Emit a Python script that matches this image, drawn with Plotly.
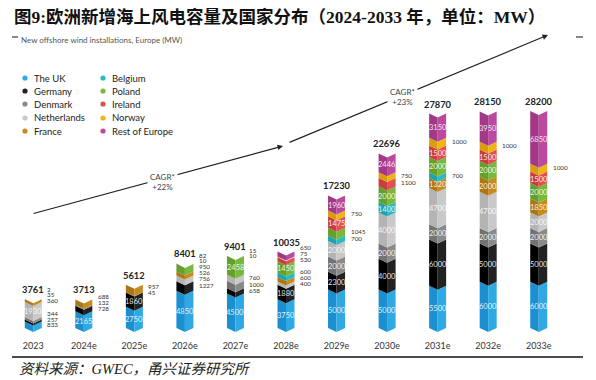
import plotly.graph_objects as go

# ---------------- data ----------------
years = ["2023", "2024e", "2025e", "2026e", "2027e", "2028e", "2029e", "2030e", "2031e", "2032e", "2033e"]
totals = [3761, 3713, 5612, 8401, 9401, 10035, 17230, 22696, 27870, 28150, 28200]

countries = ["The UK", "Germany", "Denmark", "Netherlands", "France",
             "Belgium", "Poland", "Ireland", "Norway", "Rest of Europe"]
uk          = [833, 2165, 2750, 4850, 4500, 3750, 5000, 5000, 5500, 6000, 6000]
germany     = [257, 728, 1860, 1227, 658, 1880, 2300, 4000, 6000, 5000, 5000]
denmark     = [344, 132, 45, 0, 1000, 0, 2000, 2000, 2000, 2000, 2000]
netherlands = [1930, 0, 0, 756, 760, 400, 2000, 4000, 4700, 4700, 2000]
france      = [360, 688, 957, 526, 0, 600, 0, 0, 1320, 2000, 1850]
belgium     = [0, 0, 0, 0, 0, 600, 700, 1400, 700, 0, 0]
poland      = [0, 0, 0, 950, 2458, 1450, 1045, 2000, 2000, 2000, 2000]
ireland     = [0, 0, 0, 10, 10, 530, 1475, 1100, 1500, 1500, 1500]
norway      = [35, 0, 0, 0, 0, 75, 750, 750, 1000, 1000, 1000]
rest        = [2, 0, 0, 82, 15, 650, 1960, 2446, 3150, 3950, 6850]
series = [uk, germany, denmark, netherlands, france, belgium, poland, ireland, norway, rest]

colors = ["#2fa9e4", "#222222", "#8a8a8a", "#c9c9c9", "#c68b1c",
          "#2bb9c3", "#78b83c", "#e0504f", "#f0b418", "#bb4a9e"]
dark = ["#1b8fcf", "#000000", "#737373", "#b4b4b4", "#ad7612",
        "#1ea2ab", "#63a02c", "#c93d3d", "#d99e0a", "#a23886"]

# ---------------- geometry ----------------
W, H = 596, 380
ML, MR, MT, MB = 8, 32, 40, 48
PW, PH = W - ML - MR, H - MT - MB
MW_PER_PX = 130.0
YMAX = PH * MW_PER_PX
PX_PER_UNIT = PW / 11.0
HW = 8.5 / PX_PER_UNIT          # half bar width (x units)
D = 4 * MW_PER_PX               # chevron depth (y units)


def px(xp):
    return (xp - ML) / PW


def py(yp):
    return (H - MB - yp) / PH


fig = go.Figure()

cum = [0.0] * len(years)
inside_ann = []
outside = {i: [] for i in range(len(years))}
for ci, (name, vals) in enumerate(zip(countries, series)):
    lx, ly, rx, ry = [], [], [], []
    for i, v in enumerate(vals):
        if v <= 0:
            continue
        y0, y1 = cum[i], cum[i] + v
        lx += [i - HW, i, i, i - HW, i - HW, None]
        ly += [y0 + D, y0, y1, y1 + D, y0 + D, None]
        rx += [i, i + HW, i + HW, i, i, None]
        ry += [y0, y0 + D, y1 + D, y1, y0, None]
        if v >= 1300:
            inside_ann.append((i, (y0 + y1) / 2 + D / 2, v))
        else:
            outside[i].append(((y0 + y1) / 2 + D, v))
        cum[i] = y1
    fig.add_trace(go.Scatter(x=lx, y=ly, fill="toself", fillcolor=dark[ci], mode="lines",
                             line=dict(width=0), hoverinfo="skip", showlegend=False))
    fig.add_trace(go.Scatter(x=rx, y=ry, fill="toself", fillcolor=colors[ci], mode="lines",
                             line=dict(width=0), hoverinfo="skip", showlegend=False))

ann = []
LAT = "Lato, 'Noto Sans', sans-serif"
SERIF_CJK = "'Liberation Serif', 'Noto Sans CJK SC', serif"

# arrows (CAGR)
ann.append(dict(xref="paper", yref="paper", x=px(283), y=py(146), ax=32 - 283, ay=214 - 146,
                text="", showarrow=True, arrowhead=2, arrowsize=1, arrowwidth=1.1, arrowcolor="#222"))
ann.append(dict(xref="paper", yref="paper", x=px(548), y=py(35), ax=288 - 548, ay=143 - 35,
                text="", showarrow=True, arrowhead=2, arrowsize=1, arrowwidth=1.1, arrowcolor="#222"))
ann.append(dict(xref="paper", yref="paper", x=px(147), y=py(182), text="CAGR*<br>+22%",
                showarrow=False, bgcolor="white", borderpad=2, align="center",
                font=dict(family=LAT, size=8, color="#444")))
ann.append(dict(xref="paper", yref="paper", x=px(418), y=py(84), text="CAGR*<br>+23%",
                showarrow=False, bgcolor="white", borderpad=2, align="center",
                font=dict(family=LAT, size=8, color="#444")))

# inside labels
for i, yv, v in inside_ann:
    ann.append(dict(x=i, y=yv, xref="x", yref="y", text=str(v), showarrow=False,
                    font=dict(family=LAT, size=7.5, color="rgba(255,255,255,0.9)")))

# outside labels with simple collision avoidance
GAP = 5.8 * MW_PER_PX
for i, items in outside.items():
    items.sort(key=lambda t: t[0])
    prev = -1e9
    for yv, v in items:
        pos = max(yv, prev + GAP)
        prev = pos
        ann.append(dict(x=i, y=pos, xref="x", yref="y", text=str(v), showarrow=False,
                        xanchor="left", xshift=12,
                        font=dict(family=LAT, size=6.3, color="#333")))

# totals
for i, t in enumerate(totals):
    ann.append(dict(x=i, y=cum[i] + D, xref="x", yref="y", text="<b>%d</b>" % t, showarrow=False,
                    yanchor="bottom", yshift=2,
                    font=dict(family=LAT, size=9.3, color="#222")))

# title, subtitle, source
ann.append(dict(xref="paper", yref="paper", x=px(12), y=py(17), xanchor="left", yanchor="middle",
                text="<b>图9:欧洲新增海上风电容量及国家分布（2024-2033 年，单位：MW）</b>",
                showarrow=False, font=dict(family=SERIF_CJK, size=17.5, color="#111")))
ann.append(dict(xref="paper", yref="paper", x=px(19), y=py(40), xanchor="left", yanchor="middle",
                text="New offshore wind installations, Europe (MW)",
                showarrow=False, font=dict(family=LAT, size=8, color="#555")))
ann.append(dict(xref="paper", yref="paper", x=px(17), y=py(369), xanchor="left", yanchor="middle",
                text="<i>资料来源：GWEC，甬兴证券研究所</i>",
                showarrow=False, font=dict(family=SERIF_CJK, size=14.5, color="#222")))

# legend (manual, two columns)
shapes = []
rows = [78, 91, 104, 118, 131]
for k, name in enumerate(countries):
    col, row = divmod(k, 5)
    dx = 25 if col == 0 else 103
    yy = rows[row]
    shapes.append(dict(type="circle", xref="paper", yref="paper",
                       x0=px(dx - 2.6), x1=px(dx + 2.6), y0=py(yy + 2.6), y1=py(yy - 2.6),
                       fillcolor=colors[k], line=dict(width=0)))
    ann.append(dict(xref="paper", yref="paper", x=px(dx + 7), y=py(yy), xanchor="left", yanchor="middle",
                    text=name, showarrow=False, font=dict(family=LAT, size=9.5, color="#222")))

# rules
shapes.append(dict(type="line", xref="paper", yref="paper", x0=px(12), x1=px(583), y0=py(357), y1=py(357),
                   line=dict(color="#111", width=1.5)))
shapes.append(dict(type="line", xref="paper", yref="paper", x0=px(12), x1=px(18), y0=py(37), y1=py(37),
                   line=dict(color="#111", width=1)))
shapes.append(dict(type="line", xref="paper", yref="paper", x0=px(576), x1=px(583), y0=py(37), y1=py(37),
                   line=dict(color="#111", width=1)))

fig.update_layout(
    width=W, height=H,
    margin=dict(l=ML, r=MR, t=MT, b=MB),
    paper_bgcolor="white", plot_bgcolor="white",
    showlegend=False,
    annotations=ann, shapes=shapes,
    xaxis=dict(range=[-0.5, 10.5], tickvals=list(range(len(years))), ticktext=years,
               showgrid=False, zeroline=False, showline=False,
               ticks="outside", ticklen=5, tickcolor="rgba(0,0,0,0)",
               tickfont=dict(family=LAT, size=9, color="#333"), fixedrange=True),
    yaxis=dict(range=[0, YMAX], visible=False, fixedrange=True),
)

fig.write_html("out.html", config={"displayModeBar": False},
               post_script="document.body.style.margin='0';document.body.style.overflow='hidden';")
